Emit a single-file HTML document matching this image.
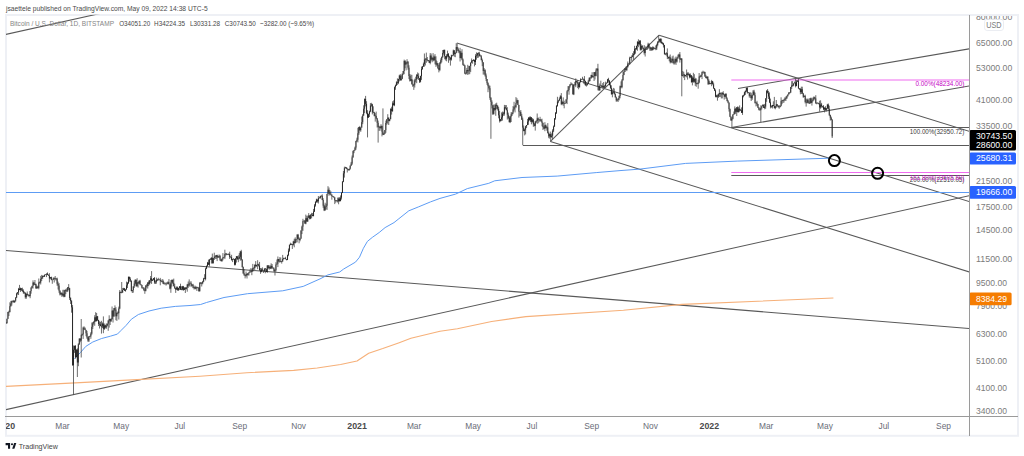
<!DOCTYPE html>
<html><head><meta charset="utf-8">
<style>
html,body{margin:0;padding:0;width:1024px;height:456px;overflow:hidden;background:#fff;}
body{position:relative;font-family:"Liberation Sans",sans-serif;}
svg{position:absolute;left:0;top:0;}
text{font-family:"Liberation Sans",sans-serif;}
</style></head><body>
<svg width="1024" height="456" viewBox="0 0 1024 456">
<defs>
<clipPath id="pane"><rect x="6" y="14.8" width="963" height="401.2"/></clipPath>
<clipPath id="taxis"><rect x="6" y="417" width="963" height="19"/></clipPath>
<clipPath id="paxis"><rect x="970" y="16" width="48" height="400"/></clipPath>
</defs>
<!-- header -->
<text x="6" y="10.7" font-size="7.6" fill="#4a4a4a" textLength="201.6" lengthAdjust="spacingAndGlyphs">jsaettele published on TradingView.com, May 09, 2022 14:38 UTC-5</text>
<!-- frame -->
<rect x="6" y="15" width="1012" height="420.8" fill="none" stroke="#eef0f5" stroke-width="2"/>
<g clip-path="url(#pane)">
<!-- trend lines -->
<g stroke="#595959" stroke-width="1.05" fill="none">
<line x1="-100" y1="57.9" x2="200" y2="-8.7"/>
<line x1="5.5" y1="250.4" x2="969.5" y2="328.5"/>
<line x1="5.5" y1="409.7" x2="969.3" y2="195.7"/>
<line x1="456.8" y1="42.9" x2="969.3" y2="201.6"/>
<line x1="550.4" y1="141.4" x2="969.5" y2="272"/>
<line x1="550.4" y1="141.4" x2="659.1" y2="35.2"/>
<line x1="659.1" y1="35.2" x2="969.5" y2="131.4"/>
<line x1="738" y1="88.4" x2="969.5" y2="48.8"/>
<line x1="731.3" y1="127.5" x2="969.5" y2="86"/>
<line x1="523" y1="145.5" x2="969" y2="145.5"/>
<line x1="731.3" y1="127.5" x2="969" y2="127.5"/>
<line x1="731.3" y1="175.5" x2="969" y2="175.5"/>
</g>
<g stroke="#f06cf0" stroke-width="1.2" fill="none">
<line x1="731.3" y1="80" x2="969" y2="80"/>
<line x1="731.3" y1="172.5" x2="969" y2="172.5"/>
</g>
<line x1="0" y1="192.5" x2="969" y2="192.5" stroke="#5d9cf4" stroke-width="1"/>
<!-- 200 MA -->
<polyline fill="none" stroke="#5d9cf4" stroke-width="1" stroke-linejoin="round" points="74.4,358.7 80.5,352.5 85.8,346.4 92.8,342 101.6,338.5 110.4,336.2 117.4,334.1 120.9,330.6 126.1,325.4 131.4,319.2 138.4,314.5 149,311 161.2,308.2 175.3,306.4 190,305.5 200.6,304.5 206.5,302.5 224,297.5 247.5,293.7 282.7,290.8 303.2,286.4 320,278.9 327.9,274.9 339.7,272 343.7,269 355.5,262.1 359.5,257.2 363.4,248.3 367.4,241.4 372.3,237.4 379.2,232.5 385.1,227.6 394,222.6 398.9,218.7 408.8,210.8 418.7,206.8 430.5,201.9 440,198.4 455.6,194.1 467.3,188.6 488.8,183.3 494.7,180.8 522,177.5 557.2,176.1 596.2,172.6 620,170.6 640,169.1 685.6,163.4 737.2,161.1 829.3,158.2"/>
<!-- orange MA -->
<polyline fill="none" stroke="#f6b079" stroke-width="1.1" stroke-linejoin="round" points="5.5,386.4 80,382.6 127.4,380.1 200,376.2 246.9,372.7 293.7,370.4 317.2,368 340.6,364.5 357,361 368.7,353.3 382.8,348.6 399.2,342.7 410.9,338.3 440,331.2 457.4,328.8 491.6,321.5 525.8,316.6 623.4,310.3 682,304.4 833.4,298"/>
<!-- candles -->
<path fill="none" stroke="#474747" stroke-width="0.8" d="M4.10 320.0V321.8M5.06 320.3V323.0M6.03 322.4V324.0M6.99 318.7V323.4M7.96 311.8V319.1M8.92 310.7V316.0M9.88 302.3V312.2M10.85 300.9V306.7M11.81 300.6V305.6M12.78 300.7V302.2M13.74 299.9V302.5M14.70 300.5V302.7M15.67 297.1V301.7M16.63 292.7V298.1M17.60 292.0V294.6M18.56 287.9V295.0M19.52 284.9V290.2M20.49 287.6V291.9M21.45 288.2V291.0M22.42 287.7V291.9M23.38 289.3V293.8M24.34 291.5V293.8M25.31 292.2V298.7M26.27 293.6V298.8M27.24 291.5V295.5M28.20 294.3V296.5M29.16 294.7V296.4M30.13 291.0V298.2M31.09 287.1V293.7M32.06 285.8V288.5M33.02 280.3V288.5M33.98 282.1V285.4M34.95 280.0V284.9M35.91 283.7V288.7M36.88 285.3V288.8M37.84 286.5V288.5M38.80 278.5V289.3M39.77 281.4V283.7M40.73 275.9V284.5M41.70 274.9V281.0M42.66 275.6V278.9M43.62 275.7V276.8M44.59 274.4V276.8M45.55 274.4V275.1M46.52 273.6V277.1M47.48 272.4V275.1M48.44 274.3V275.8M49.41 273.2V282.4M50.37 277.0V278.7M51.34 276.6V280.3M52.30 279.7V283.8M53.26 277.4V279.9M54.23 277.4V282.5M55.19 276.0V280.2M56.16 278.4V280.5M57.12 277.6V285.7M58.08 281.6V289.5M59.05 283.1V292.8M60.01 290.4V295.5M60.98 292.3V294.5M61.94 292.5V297.0M62.90 289.8V296.2M63.87 289.8V297.3M64.83 289.8V297.1M65.80 288.9V294.1M66.76 288.3V291.9M67.72 287.1V292.1M68.69 284.1V290.2M69.65 287.9V300.0M70.62 297.3V304.0M71.58 300.1V312.7M72.54 305.1V365.6M73.51 345.5V395.0M74.47 345.6V352.9M75.44 345.1V358.7M76.40 349.4V357.3M77.36 348.3V377.0M78.33 343.3V366.2M79.29 338.2V344.9M80.26 338.2V342.2M81.22 319.0V357.5M82.18 333.6V335.9M83.15 326.7V338.9M84.11 326.4V329.9M85.08 327.5V330.2M86.04 329.9V336.2M87.00 330.9V338.9M87.97 336.8V341.8M88.93 336.1V342.0M89.90 335.7V336.9M90.86 332.2V338.8M91.82 322.5V334.7M92.79 322.0V329.0M93.75 320.9V324.6M94.72 315.2V325.8M95.68 312.2V321.7M96.64 313.0V321.4M97.61 316.0V321.0M98.57 319.8V326.0M99.54 321.3V328.5M100.50 321.8V326.3M101.46 320.8V333.6M102.43 322.4V328.0M103.39 316.4V333.2M104.36 323.5V329.9M105.32 324.8V328.4M106.28 323.5V328.9M107.25 323.6V326.4M108.21 320.3V330.8M109.18 315.3V327.6M110.14 318.9V325.0M111.10 318.2V321.7M112.07 306.5V319.7M113.03 310.2V322.5M114.00 308.0V316.7M114.96 305.4V310.9M115.92 307.1V320.2M116.89 312.6V320.9M117.85 311.4V314.2M118.82 306.6V319.5M119.78 290.0V309.2M120.74 291.7V293.1M121.71 282.0V293.3M122.67 288.0V292.9M123.64 287.8V290.0M124.60 288.0V290.9M125.56 289.2V291.7M126.53 281.6V289.7M127.49 282.0V288.0M128.46 276.4V284.0M129.42 276.5V281.6M130.38 277.3V282.0M131.35 280.5V291.3M132.31 290.1V293.0M133.28 286.3V292.7M134.24 280.7V288.0M135.20 279.3V284.4M136.17 279.6V286.8M137.13 278.2V287.1M138.10 282.0V287.6M139.06 280.7V284.1M140.02 279.8V285.2M140.99 284.2V285.5M141.95 284.9V288.6M142.92 287.3V288.6M143.88 287.0V291.1M144.84 288.3V293.8M145.81 285.0V291.4M146.77 283.9V287.5M147.74 282.3V288.6M148.70 280.5V286.1M149.66 280.1V284.8M150.63 276.0V282.8M151.59 271.1V283.9M152.56 279.3V280.9M153.52 278.0V280.3M154.48 277.0V283.8M155.45 280.4V284.0M156.41 277.6V283.7M157.38 278.9V281.1M158.34 277.8V280.4M159.30 279.6V280.2M160.27 277.9V285.3M161.23 280.2V282.0M162.20 279.0V282.6M163.16 279.6V284.0M164.12 281.9V284.5M165.09 282.8V284.0M166.05 282.4V285.6M167.02 282.2V284.4M167.98 281.3V284.0M168.94 279.1V284.6M169.91 284.3V289.4M170.87 280.1V292.8M171.84 279.6V286.6M172.80 279.6V284.0M173.76 278.6V286.4M174.73 283.8V289.0M175.69 287.6V292.9M176.66 286.4V289.7M177.62 286.5V290.7M178.58 287.8V290.8M179.55 286.2V289.9M180.51 283.7V289.9M181.48 286.3V290.2M182.44 285.9V290.2M183.40 285.9V290.8M184.37 287.3V290.0M185.33 287.2V293.0M186.30 287.1V289.5M187.26 283.9V291.7M188.22 281.5V287.9M189.19 279.4V286.7M190.15 281.5V283.4M191.12 281.3V287.1M192.08 284.2V285.7M193.04 283.8V288.2M194.01 286.5V289.5M194.97 285.5V289.2M195.94 286.1V289.4M196.90 286.9V291.0M197.86 286.8V288.3M198.83 287.1V291.5M199.79 282.3V291.4M200.76 282.2V283.9M201.72 282.1V286.5M202.68 280.8V284.3M203.65 277.8V282.2M204.61 274.2V279.2M205.58 267.7V280.4M206.54 265.5V269.1M207.50 261.9V266.7M208.47 259.7V264.8M209.43 259.3V266.5M210.40 258.1V259.8M211.36 257.2V263.5M212.32 253.6V263.6M213.29 258.0V263.5M214.25 252.7V260.0M215.22 255.3V258.9M216.18 255.1V259.0M217.14 254.7V261.1M218.11 256.0V257.9M219.07 254.5V257.9M220.04 254.9V260.9M221.00 259.0V261.4M221.96 258.4V261.9M222.93 253.1V260.3M223.89 256.9V257.8M224.86 249.7V259.1M225.82 252.9V255.5M226.78 253.1V255.1M227.75 254.1V254.8M228.71 253.4V255.2M229.68 251.7V259.0M230.64 256.2V257.5M231.60 254.8V260.5M232.57 258.9V262.1M233.53 258.3V259.6M234.50 258.9V265.4M235.46 258.2V265.3M236.42 256.0V262.6M237.39 256.3V259.9M238.35 255.3V262.2M239.32 253.1V259.1M240.28 251.1V260.7M241.24 249.8V260.4M242.21 259.1V267.6M243.17 266.5V273.9M244.14 269.1V275.5M245.10 274.7V278.4M246.06 271.5V276.7M247.03 273.2V278.5M247.99 272.9V275.6M248.96 271.8V275.5M249.92 269.6V272.6M250.88 268.1V272.4M251.85 268.7V275.2M252.81 263.9V272.0M253.78 267.5V269.8M254.74 264.6V269.9M255.70 261.1V267.4M256.67 264.7V266.9M257.63 260.2V269.2M258.60 263.7V266.5M259.56 261.9V270.7M260.52 268.0V273.8M261.49 268.2V272.3M262.45 267.4V270.8M263.42 270.4V273.0M264.38 268.5V272.1M265.34 268.0V273.3M266.31 268.6V272.0M267.27 265.3V272.9M268.24 265.1V268.8M269.20 265.5V269.7M270.16 265.3V268.8M271.13 263.3V269.1M272.09 264.0V268.0M273.06 267.3V269.1M274.02 267.5V271.8M274.98 269.5V275.5M275.95 262.2V271.7M276.91 259.5V264.7M277.88 256.5V267.1M278.84 259.0V261.8M279.80 257.2V262.7M280.77 257.5V262.1M281.73 260.8V263.6M282.70 254.9V261.7M283.66 257.7V259.6M284.62 257.9V258.6M285.59 256.8V259.4M286.55 259.1V260.4M287.52 254.6V260.1M288.48 248.5V256.2M289.44 244.4V251.8M290.41 242.7V245.2M291.37 243.4V245.0M292.34 244.0V249.0M293.30 240.8V245.6M294.26 238.7V247.3M295.23 237.4V243.4M296.19 239.3V242.6M297.16 234.1V242.4M298.12 233.9V239.0M299.08 237.3V243.3M300.05 238.3V241.3M301.01 230.3V238.9M301.98 225.6V234.1M302.94 218.8V230.8M303.90 220.5V221.3M304.87 219.9V223.7M305.83 214.6V224.3M306.80 215.8V221.7M307.76 215.6V221.8M308.72 213.1V218.0M309.69 215.2V219.5M310.65 214.4V219.1M311.62 212.8V218.2M312.58 213.0V216.2M313.54 208.9V216.3M314.51 204.1V212.0M315.47 201.2V206.7M316.44 198.7V202.8M317.40 199.5V202.7M318.36 196.0V203.5M319.33 197.2V198.3M320.29 195.8V198.8M321.26 195.5V196.8M322.22 194.3V200.2M323.18 198.2V207.8M324.15 204.7V211.1M325.11 202.7V210.6M326.08 203.8V209.3M327.04 193.7V209.9M328.00 186.2V194.2M328.97 187.5V195.8M329.93 190.1V194.7M330.90 191.3V195.5M331.86 194.1V199.7M332.82 195.9V196.8M333.79 196.4V197.7M334.75 197.2V204.1M335.72 200.0V202.7M336.68 200.3V201.6M337.64 197.6V202.5M338.61 197.4V204.3M339.57 197.2V201.7M340.54 195.4V201.4M341.50 192.2V199.6M342.46 181.0V193.1M343.43 171.0V182.2M344.39 166.7V177.6M345.36 166.8V168.2M346.32 167.3V169.0M347.28 167.8V172.5M348.25 169.1V170.5M349.21 168.7V170.7M350.18 165.4V169.6M351.14 161.9V166.1M352.10 155.5V164.9M353.07 150.6V157.7M354.03 149.9V153.2M355.00 146.6V150.7M355.96 140.9V149.7M356.92 137.7V142.1M357.89 127.8V142.4M358.85 126.9V134.9M359.82 125.9V130.7M360.78 127.5V131.8M361.74 116.5V127.8M362.71 114.1V124.2M363.67 105.3V115.9M364.64 98.5V113.1M365.60 95.9V106.4M366.56 101.2V114.2M367.53 110.2V137.4M368.49 113.7V117.8M369.46 110.7V117.0M370.42 103.1V112.2M371.38 102.8V106.7M372.35 103.8V114.4M373.31 106.3V112.9M374.28 111.8V116.4M375.24 113.1V121.6M376.20 111.6V119.2M377.17 117.9V127.5M378.13 120.6V142.6M379.10 125.8V130.9M380.06 125.9V130.7M381.02 124.2V128.8M381.99 125.7V136.4M382.95 108.4V134.8M383.92 133.0V135.1M384.88 130.0V133.9M385.84 120.6V132.8M386.81 119.1V124.8M387.77 114.2V123.7M388.74 117.5V125.0M389.70 119.0V121.4M390.66 108.5V119.3M391.63 106.7V114.6M392.59 101.3V111.8M393.56 100.4V105.6M394.52 86.5V106.2M395.48 84.6V89.8M396.45 81.3V86.0M397.41 78.4V84.9M398.38 78.9V84.1M399.34 74.8V81.4M400.30 74.1V80.7M401.27 75.3V80.6M402.23 73.6V79.2M403.20 71.0V74.9M404.16 59.6V74.2M405.12 60.1V68.2M406.09 61.9V70.4M407.05 59.2V63.9M408.02 61.3V69.7M408.98 65.3V79.1M409.94 74.0V81.7M410.91 74.8V81.0M411.87 74.8V84.4M412.84 79.7V87.0M413.80 83.7V89.9M414.76 78.7V87.5M415.73 76.7V82.3M416.69 74.3V83.2M417.66 72.4V78.9M418.62 73.3V80.0M419.58 78.0V83.0M420.55 75.7V82.4M421.51 66.6V79.9M422.48 66.0V69.8M423.44 62.6V66.9M424.40 53.5V66.7M425.37 58.4V65.5M426.33 52.6V62.8M427.30 57.0V61.3M428.26 60.0V61.4M429.22 60.0V62.9M430.19 53.1V64.3M431.15 53.5V60.8M432.12 56.9V62.3M433.08 53.1V61.4M434.04 55.5V60.8M435.01 54.1V64.4M435.97 56.3V66.9M436.94 61.2V65.8M437.90 63.1V69.1M438.86 65.0V72.4M439.83 62.0V71.1M440.79 58.3V64.1M441.76 56.5V62.4M442.72 50.0V57.9M443.68 49.8V54.6M444.65 49.6V59.3M445.61 56.0V60.5M446.58 54.2V61.3M447.54 50.6V57.3M448.50 53.0V62.8M449.47 55.9V60.4M450.43 57.3V65.6M451.40 54.7V60.6M452.36 55.2V56.4M453.32 49.6V55.8M454.29 50.0V56.7M455.25 52.3V57.2M456.22 43.2V53.3M457.18 43.8V50.8M458.14 47.5V52.7M459.11 50.2V53.3M460.07 47.8V61.5M461.04 51.2V58.3M462.00 49.2V60.3M462.96 58.5V65.4M463.93 63.7V66.0M464.89 64.9V74.1M465.86 72.4V74.8M466.82 67.9V74.0M467.78 64.8V75.0M468.75 65.9V74.3M469.71 65.8V74.2M470.68 62.5V72.1M471.64 58.5V63.1M472.60 60.1V63.7M473.57 59.1V61.1M474.53 59.6V66.4M475.50 54.2V65.0M476.46 52.4V59.7M477.42 52.9V57.9M478.39 52.2V57.7M479.35 51.8V56.5M480.32 54.5V56.4M481.28 55.1V60.4M482.24 58.6V66.2M483.21 62.2V74.6M484.17 68.1V74.5M485.14 69.3V76.6M486.10 73.5V81.1M487.06 79.0V84.9M488.03 82.3V92.2M488.99 84.8V89.6M489.96 85.7V99.9M490.92 97.1V138.8M491.88 100.3V108.4M492.85 105.0V115.0M493.81 104.5V114.6M494.78 104.5V110.8M495.74 103.4V115.8M496.70 102.7V108.9M497.67 105.1V110.5M498.63 106.8V118.3M499.60 110.9V122.5M500.56 119.1V121.6M501.52 112.4V121.1M502.49 111.6V120.6M503.45 111.8V115.8M504.42 104.9V115.7M505.38 105.1V109.2M506.34 105.1V110.4M507.31 107.2V119.6M508.27 112.6V118.9M509.24 116.3V122.6M510.20 115.8V123.1M511.16 112.2V122.0M512.13 112.4V115.9M513.09 106.1V114.2M514.06 101.8V110.6M515.02 105.0V112.4M515.98 97.1V108.2M516.95 98.2V103.6M517.91 99.9V105.1M518.88 104.8V117.6M519.84 111.4V116.1M520.80 110.0V116.3M521.77 113.8V120.0M522.73 117.6V145.3M523.70 125.5V131.2M524.66 128.6V135.4M525.62 125.8V134.4M526.59 125.0V128.0M527.55 118.9V125.2M528.52 117.3V124.8M529.48 116.6V120.4M530.44 116.4V122.1M531.41 117.1V124.3M532.37 118.0V122.6M533.34 118.8V126.8M534.30 123.0V126.4M535.26 121.3V130.6M536.23 120.3V122.9M537.19 113.5V123.8M538.16 117.4V123.3M539.12 119.0V122.2M540.08 116.8V120.9M541.05 119.4V121.9M542.01 118.7V126.3M542.98 122.7V130.0M543.94 125.8V129.1M544.90 122.2V131.2M545.87 124.5V128.3M546.83 126.1V130.7M547.80 123.1V133.5M548.76 131.6V138.2M549.72 133.7V138.6M550.69 131.6V141.6M551.65 133.4V137.7M552.62 129.2V139.4M553.58 125.5V132.1M554.54 118.1V126.9M555.51 112.1V119.7M556.47 105.1V114.0M557.44 96.8V106.7M558.40 100.2V103.2M559.36 97.4V101.1M560.33 95.2V98.9M561.29 93.1V105.2M562.26 100.8V104.6M563.22 97.4V105.8M564.18 100.7V108.3M565.15 102.8V103.8M566.11 99.2V103.2M567.08 90.3V104.1M568.04 86.1V91.4M569.00 86.1V94.7M569.97 84.1V87.6M570.93 82.2V85.4M571.90 83.0V84.8M572.86 84.1V94.4M573.82 84.3V95.1M574.79 81.9V85.3M575.75 78.4V87.2M576.72 80.8V82.6M577.68 80.1V88.1M578.64 82.2V89.3M579.61 82.1V87.7M580.57 78.3V82.5M581.54 78.9V79.6M582.50 76.8V79.6M583.46 78.8V83.5M584.43 76.1V84.4M585.39 80.7V85.9M586.36 82.0V86.6M587.32 82.8V85.6M588.28 79.8V84.0M589.25 77.4V81.5M590.21 77.5V81.2M591.18 74.7V78.8M592.14 72.2V77.6M593.10 75.9V78.0M594.07 72.0V81.0M595.03 72.1V79.5M596.00 68.5V76.4M596.96 68.2V70.8M597.92 63.8V90.4M598.89 86.1V90.8M599.85 83.5V90.8M600.82 80.7V85.6M601.78 85.2V87.2M602.74 83.1V88.4M603.71 82.0V88.1M604.67 85.0V87.9M605.64 81.6V86.7M606.60 82.6V83.7M607.56 78.9V83.1M608.53 77.8V82.6M609.49 80.3V85.3M610.46 83.1V88.8M611.42 85.3V94.8M612.38 89.4V97.3M613.35 87.9V93.4M614.31 88.5V94.6M615.28 93.3V97.6M616.24 96.6V101.8M617.20 99.0V101.5M618.17 98.1V101.9M619.13 95.5V100.3M620.10 85.5V98.3M621.06 81.4V88.2M622.02 79.0V88.3M622.99 70.2V80.6M623.95 71.5V75.2M624.92 68.4V72.0M625.88 66.6V70.2M626.84 65.9V71.1M627.81 61.5V67.5M628.77 63.3V63.7M629.74 56.7V64.5M630.70 56.9V58.0M631.66 55.4V60.9M632.63 53.2V57.1M633.59 51.2V59.9M634.56 45.8V55.1M635.52 48.0V53.7M636.48 45.6V49.8M637.45 41.1V50.8M638.41 39.3V47.2M639.38 40.6V45.4M640.34 40.2V50.6M641.30 44.4V50.4M642.27 45.1V48.8M643.23 47.7V49.8M644.20 45.1V54.6M645.16 46.3V56.5M646.12 47.4V49.9M647.09 46.5V49.9M648.05 42.7V48.8M649.02 43.1V47.9M649.98 46.4V51.0M650.94 47.4V50.8M651.91 47.1V51.0M652.87 46.2V50.3M653.84 46.9V49.5M654.80 48.1V49.1M655.76 45.4V50.2M656.73 43.7V50.0M657.69 41.1V46.3M658.66 35.4V43.1M659.62 38.6V42.4M660.58 38.2V43.2M661.55 38.6V43.7M662.51 41.9V44.5M663.48 42.8V47.5M664.44 44.8V54.4M665.40 53.4V55.1M666.37 52.2V55.6M667.33 48.4V59.1M668.30 56.7V58.9M669.26 55.7V61.2M670.22 54.5V63.4M671.19 58.4V63.2M672.15 56.4V62.7M673.12 55.6V63.4M674.08 60.6V64.8M675.04 57.6V63.8M676.01 56.5V64.9M676.97 57.3V62.6M677.94 54.6V58.9M678.90 53.7V57.3M679.86 52.0V62.6M680.83 58.2V60.1M681.79 58.3V96.3M682.76 70.9V76.5M683.72 71.8V77.8M684.68 73.9V80.1M685.65 75.0V76.3M686.61 69.5V77.4M687.58 72.3V79.6M688.54 72.4V75.6M689.50 73.6V78.3M690.47 73.5V78.1M691.43 75.2V82.8M692.40 76.2V85.4M693.36 72.8V82.7M694.32 74.2V82.4M695.29 77.8V85.9M696.25 78.4V86.8M697.22 82.7V84.2M698.18 79.7V88.7M699.14 73.0V83.4M700.11 75.5V77.7M701.07 74.6V77.0M702.04 71.5V79.1M703.00 70.7V72.4M703.96 71.4V74.0M704.93 71.9V76.9M705.89 74.8V78.3M706.86 76.1V79.1M707.82 76.0V84.6M708.78 79.2V84.8M709.75 81.2V84.2M710.71 83.1V84.2M711.68 79.9V86.2M712.64 81.1V84.4M713.60 82.6V88.9M714.57 88.0V91.1M715.53 89.4V97.3M716.50 94.8V97.4M717.46 94.5V100.7M718.42 93.5V97.9M719.39 89.2V97.0M720.35 92.5V96.9M721.32 92.4V98.4M722.28 92.0V98.4M723.24 91.2V95.1M724.21 94.2V99.6M725.17 93.5V96.9M726.14 93.3V98.8M727.10 97.4V101.3M728.06 100.0V103.3M729.03 102.4V111.6M729.99 108.5V117.1M730.96 116.3V120.6M731.92 117.3V127.6M732.88 114.3V119.3M733.85 111.5V114.7M734.81 106.4V114.3M735.78 108.1V113.6M736.74 107.0V116.0M737.70 106.3V112.4M738.67 106.9V112.5M739.63 105.4V111.7M740.60 109.0V110.8M741.56 107.4V113.0M742.52 95.3V114.9M743.49 94.7V97.3M744.45 91.6V95.5M745.42 90.5V94.9M746.38 87.7V92.0M747.34 87.2V93.6M748.31 92.1V93.1M749.27 92.5V97.5M750.24 92.3V97.9M751.20 92.7V101.0M752.16 94.8V99.9M753.13 90.0V95.4M754.09 89.8V95.6M755.06 92.6V103.6M756.02 102.4V106.4M756.98 100.8V105.8M757.95 103.9V108.0M758.91 107.1V110.4M759.88 108.3V110.5M760.84 105.3V122.1M761.80 105.5V109.4M762.77 104.3V106.3M763.73 104.4V108.0M764.70 103.9V109.3M765.66 98.2V108.8M766.62 90.3V101.8M767.59 89.0V93.5M768.55 90.9V99.0M769.52 92.4V103.1M770.48 98.6V108.4M771.44 105.4V107.7M772.41 104.9V108.5M773.37 101.3V106.2M774.34 96.9V108.3M775.30 105.9V109.3M776.26 100.0V107.8M777.23 104.2V106.6M778.19 105.2V107.5M779.16 105.3V108.8M780.12 105.4V107.4M781.08 97.3V106.4M782.05 99.9V104.2M783.01 99.8V103.0M783.98 98.8V102.6M784.94 97.2V100.8M785.90 96.4V101.0M786.87 95.5V98.7M787.83 94.4V96.6M788.80 92.0V94.6M789.76 92.2V93.7M790.72 86.9V92.7M791.69 81.2V89.0M792.65 81.1V86.6M793.62 83.3V86.2M794.58 81.5V83.4M795.54 79.1V87.4M796.51 80.1V86.3M797.47 80.3V81.8M798.44 78.2V88.8M799.40 88.1V90.0M800.36 88.4V94.3M801.33 86.7V94.0M802.29 86.7V94.1M803.26 92.9V97.9M804.22 95.5V96.9M805.18 94.7V103.4M806.15 98.7V106.6M807.11 98.7V103.5M808.08 98.5V103.0M809.04 101.3V103.8M810.00 98.2V103.7M810.97 97.5V103.2M811.93 98.3V105.6M812.90 97.5V101.6M813.86 96.4V100.5M814.82 96.8V99.2M815.79 95.2V103.7M816.75 102.4V104.3M817.72 102.5V103.5M818.68 102.8V104.4M819.64 100.7V111.7M820.61 100.3V108.8M821.57 102.9V107.6M822.54 105.8V107.7M823.50 105.1V109.9M824.46 107.2V112.4M825.43 106.2V110.8M826.39 108.1V111.4M827.36 103.9V109.2M828.32 103.5V109.5M829.28 105.7V116.0M830.25 114.7V120.5M831.21 116.6V120.3M832.18 119.0V138.0"/>
<path fill="none" stroke="#000" stroke-width="0.65" d="M4.10 321.2V321.8M5.06 321.3V322.4M6.03 322.4V323.3M6.99 318.8V323.3M7.96 312.0V318.8M8.92 311.8V312.4M9.88 306.2V312.2M10.85 303.4V306.2M11.81 301.1V303.4M12.78 300.7V301.3M13.74 300.9V302.4M14.70 300.6V302.4M15.67 297.6V300.6M16.63 293.5V297.6M17.60 292.3V293.5M18.56 288.8V292.3M19.52 288.8V290.0M20.49 288.3V290.0M21.45 288.3V289.6M22.42 289.6V290.8M23.38 290.8V292.6M24.34 292.5V293.1M25.31 293.0V297.2M26.27 293.7V297.2M27.24 293.7V295.1M28.20 294.7V295.3M29.16 294.9V296.2M30.13 291.1V296.2M31.09 287.8V291.1M32.06 285.9V287.8M33.02 282.5V285.9M33.98 282.5V284.7M34.95 283.9V284.7M35.91 283.9V288.4M36.88 286.5V288.4M37.84 286.5V287.8M38.80 282.4V287.8M39.77 282.1V282.7M40.73 278.9V282.5M41.70 277.6V278.9M42.66 275.8V277.6M43.62 275.8V276.7M44.59 274.9V276.7M45.55 274.4V275.0M46.52 273.6V274.4M47.48 273.6V274.9M48.44 274.9V275.6M49.41 275.6V278.5M50.37 277.1V278.5M51.34 277.1V279.9M52.30 279.5V280.1M53.26 278.4V279.7M54.23 278.2V278.8M55.19 278.3V278.9M56.16 278.3V278.9M57.12 278.6V283.8M58.08 283.8V285.6M59.05 285.6V290.7M60.01 290.7V294.5M60.98 292.9V294.5M61.94 292.9V295.4M62.90 293.7V295.4M63.87 293.7V296.7M64.83 290.2V296.7M65.80 290.2V291.1M66.76 290.6V291.2M67.72 287.3V290.7M68.69 287.3V288.2M69.65 288.2V298.0M70.62 298.0V301.1M71.58 301.1V307.4M72.54 307.4V365.3M73.51 349.8V365.3M74.47 345.9V349.8M75.44 345.9V357.2M76.40 349.6V357.2M77.36 349.6V362.5M78.33 344.3V362.5M79.29 338.7V344.3M80.26 338.7V340.6M81.22 334.8V340.6M82.18 334.3V334.9M83.15 327.7V334.4M84.11 327.7V328.5M85.08 328.5V329.9M86.04 329.9V333.3M87.00 333.3V337.5M87.97 337.5V340.5M88.93 336.3V340.5M89.90 336.0V336.6M90.86 333.6V336.3M91.82 326.8V333.6M92.79 323.3V326.8M93.75 322.0V323.3M94.72 317.3V322.0M95.68 317.3V321.1M96.64 316.3V321.1M97.61 316.3V320.0M98.57 320.0V324.0M99.54 323.9V324.5M100.50 324.4V325.9M101.46 325.9V326.5M102.43 323.6V326.4M103.39 323.6V328.9M104.36 325.3V328.9M105.32 325.3V327.5M106.28 325.5V327.5M107.25 323.6V325.5M108.21 320.4V323.6M109.18 319.0V320.4M110.14 319.0V321.4M111.10 319.0V321.4M112.07 310.6V319.0M113.03 310.6V316.5M114.00 308.2V316.5M114.96 308.2V309.6M115.92 309.6V316.3M116.89 312.8V316.3M117.85 312.7V313.3M118.82 308.5V313.2M119.78 291.8V308.5M120.74 291.8V292.8M121.71 292.3V292.9M122.67 290.0V292.4M123.64 288.4V290.0M124.60 288.4V290.8M125.56 289.5V290.8M126.53 285.4V289.5M127.49 283.0V285.4M128.46 277.0V283.0M129.42 277.0V279.1M130.38 279.1V280.6M131.35 280.6V291.1M132.31 290.2V291.1M133.28 286.4V290.2M134.24 283.5V286.4M135.20 279.8V283.5M136.17 279.8V286.0M137.13 282.4V286.0M138.10 282.4V283.4M139.06 280.7V283.4M140.02 280.7V284.3M140.99 284.3V285.1M141.95 285.1V287.8M142.92 287.7V288.3M143.88 288.2V290.0M144.84 290.0V290.8M145.81 285.7V290.8M146.77 285.6V286.2M147.74 282.4V286.1M148.70 282.4V283.8M149.66 280.3V283.8M150.63 278.3V280.3M151.59 278.3V280.8M152.56 279.6V280.8M153.52 278.2V279.6M154.48 278.2V282.4M155.45 281.8V282.4M156.41 279.9V281.8M157.38 279.6V280.2M158.34 279.6V280.2M159.30 279.4V280.0M160.27 279.7V281.1M161.23 280.9V281.5M162.20 280.9V281.5M163.16 281.1V283.8M164.12 283.6V284.2M165.09 283.7V284.3M166.05 283.7V284.3M167.02 283.6V284.2M167.98 282.2V283.8M168.94 282.2V284.3M169.91 284.3V288.6M170.87 282.5V288.6M171.84 279.9V282.5M172.80 279.9V282.8M173.76 282.8V286.2M174.73 286.2V288.0M175.69 288.0V289.7M176.66 287.4V289.7M177.62 287.4V290.2M178.58 288.0V290.2M179.55 286.2V288.0M180.51 286.2V289.7M181.48 289.3V289.9M182.44 286.5V289.5M183.40 286.5V290.0M184.37 287.7V290.0M185.33 287.7V289.1M186.30 287.5V289.1M187.26 284.5V287.5M188.22 284.5V285.5M189.19 283.4V285.5M190.15 283.0V283.6M191.12 283.2V285.7M192.08 284.7V285.7M193.04 284.7V287.6M194.01 287.0V287.6M194.97 287.0V288.7M195.94 287.2V288.7M196.90 287.2V287.8M197.86 287.5V288.1M198.83 287.9V291.3M199.79 282.6V291.3M200.76 282.6V283.5M201.72 283.1V283.7M202.68 281.6V283.3M203.65 278.4V281.6M204.61 278.4V279.0M205.58 268.7V279.0M206.54 265.9V268.7M207.50 262.6V265.9M208.47 262.6V264.8M209.43 259.3V264.8M210.40 259.3V259.9M211.36 257.8V259.8M212.32 257.8V263.2M213.29 258.2V263.2M214.25 256.7V258.2M215.22 256.5V257.1M216.18 255.1V256.8M217.14 255.1V257.5M218.11 256.2V257.5M219.07 255.8V256.4M220.04 256.0V259.7M221.00 259.7V261.0M221.96 258.9V261.0M222.93 257.3V258.9M223.89 257.1V257.7M224.86 253.9V257.4M225.82 253.6V254.2M226.78 253.9V254.7M227.75 254.3V254.9M228.71 253.9V254.5M229.68 253.9V257.2M230.64 256.9V257.5M231.60 257.2V260.1M232.57 259.3V260.1M233.53 258.9V259.5M234.50 259.2V264.6M235.46 258.4V264.6M236.42 256.3V258.4M237.39 256.3V259.2M238.35 258.5V259.2M239.32 256.8V258.5M240.28 251.4V256.8M241.24 251.4V259.7M242.21 259.7V267.0M243.17 267.0V273.3M244.14 273.3V275.4M245.10 275.4V276.0M246.06 273.9V275.9M247.03 273.9V274.9M247.99 273.2V274.9M248.96 272.5V273.2M249.92 271.6V272.5M250.88 271.5V272.1M251.85 270.7V272.0M252.81 268.1V270.7M253.78 267.7V268.3M254.74 264.6V268.0M255.70 264.6V266.0M256.67 265.0V266.0M257.63 264.4V265.0M258.60 264.4V265.6M259.56 265.6V270.4M260.52 270.4V271.7M261.49 269.5V271.7M262.45 269.5V270.7M263.42 270.6V271.2M264.38 268.5V271.0M265.34 268.5V269.1M266.31 269.1V271.9M267.27 265.4V271.9M268.24 265.4V268.1M269.20 266.9V268.1M270.16 266.9V268.6M271.13 265.9V268.6M272.09 265.9V267.7M273.06 267.7V268.7M274.02 268.7V271.3M274.98 270.2V271.3M275.95 264.5V270.2M276.91 263.7V264.5M277.88 259.0V263.7M278.84 259.0V261.4M279.80 261.1V261.7M280.77 261.0V261.6M281.73 261.1V261.7M282.70 258.9V261.5M283.66 258.1V258.9M284.62 257.9V258.5M285.59 258.3V259.1M286.55 259.1V259.8M287.52 255.1V259.8M288.48 250.7V255.1M289.44 245.1V250.7M290.41 244.1V245.1M291.37 244.0V244.6M292.34 244.4V245.0M293.30 241.5V244.8M294.26 241.5V243.1M295.23 239.3V243.1M296.19 239.0V239.6M297.16 234.8V239.4M298.12 234.8V238.8M299.08 238.8V240.0M300.05 238.5V240.0M301.01 230.5V238.5M301.98 226.6V230.5M302.94 221.1V226.6M303.90 220.7V221.3M304.87 220.8V223.6M305.83 218.2V223.6M306.80 218.2V221.5M307.76 217.7V221.5M308.72 215.5V217.7M309.69 215.5V218.7M310.65 214.6V218.7M311.62 214.5V215.1M312.58 215.0V216.1M313.54 211.5V216.1M314.51 205.5V211.5M315.47 202.0V205.5M316.44 199.5V202.0M317.40 199.5V201.4M318.36 198.0V201.4M319.33 197.7V198.3M320.29 196.0V198.0M321.26 195.6V196.2M322.22 195.7V200.0M323.18 200.0V205.7M324.15 205.7V210.4M325.11 206.9V210.4M326.08 205.7V206.9M327.04 194.0V205.7M328.00 189.7V194.0M328.97 189.7V192.0M329.93 192.0V194.5M330.90 194.5V195.1M331.86 195.1V196.2M332.82 196.0V196.6M333.79 196.4V197.4M334.75 197.4V200.3M335.72 200.1V200.7M336.68 200.2V200.8M337.64 200.5V201.3M338.61 198.6V201.3M339.57 198.6V201.0M340.54 197.6V201.0M341.50 192.8V197.6M342.46 181.8V192.8M343.43 173.4V181.8M344.39 168.2V173.4M345.36 167.3V168.2M346.32 167.3V168.8M347.28 168.8V169.4M348.25 169.3V170.1M349.21 168.7V170.1M350.18 165.7V168.7M351.14 163.6V165.7M352.10 157.4V163.6M353.07 151.1V157.4M354.03 150.1V151.1M355.00 147.6V150.1M355.96 140.9V147.6M356.92 139.7V140.9M357.89 133.3V139.7M358.85 127.0V133.3M359.82 127.0V130.2M360.78 127.5V130.2M361.74 122.2V127.5M362.71 115.5V122.2M363.67 108.7V115.5M364.64 98.9V108.7M365.60 98.9V103.9M366.56 103.9V112.9M367.53 112.9V117.7M368.49 114.2V117.7M369.46 111.5V114.2M370.42 105.6V111.5M371.38 104.4V105.6M372.35 104.4V112.3M373.31 112.1V112.7M374.28 112.4V115.8M375.24 115.5V116.1M376.20 115.9V118.4M377.17 118.4V122.8M378.13 122.8V127.2M379.10 126.8V127.4M380.06 127.0V128.1M381.02 125.9V128.1M381.99 125.9V131.6M382.95 131.6V134.8M383.92 133.8V134.8M384.88 130.1V133.8M385.84 123.0V130.1M386.81 119.3V123.0M387.77 117.6V119.3M388.74 117.6V121.0M389.70 119.2V121.0M390.66 108.7V119.2M391.63 108.7V111.1M392.59 103.3V111.1M393.56 103.3V105.1M394.52 87.3V105.1M395.48 85.3V87.3M396.45 82.3V85.3M397.41 82.3V83.0M398.38 78.9V83.0M399.34 75.6V78.9M400.30 75.6V80.2M401.27 78.8V80.2M402.23 73.6V78.8M403.20 71.0V73.6M404.16 61.0V71.0M405.12 61.0V64.6M406.09 62.5V64.6M407.05 61.6V62.5M408.02 61.6V67.7M408.98 67.7V76.0M409.94 76.0V80.8M410.91 79.2V80.8M411.87 79.2V84.4M412.84 84.4V85.6M413.80 84.7V85.6M414.76 80.3V84.7M415.73 79.5V80.3M416.69 74.6V79.5M417.66 74.6V76.2M418.62 76.2V78.3M419.58 78.3V81.7M420.55 76.1V81.7M421.51 69.0V76.1M422.48 66.5V69.0M423.44 64.1V66.5M424.40 59.5V64.1M425.37 58.6V59.5M426.33 58.6V59.6M427.30 59.6V60.2M428.26 60.2V61.0M429.22 61.0V62.9M430.19 55.5V62.9M431.15 55.5V59.6M432.12 57.9V59.6M433.08 57.9V60.3M434.04 56.6V60.3M435.01 56.6V60.2M435.97 60.2V64.6M436.94 63.3V64.6M437.90 63.3V68.0M438.86 68.0V69.9M439.83 63.1V69.9M440.79 60.2V63.1M441.76 56.9V60.2M442.72 53.0V56.9M443.68 49.9V53.0M444.65 49.9V56.2M445.61 56.2V58.8M446.58 55.8V58.8M447.54 54.1V55.8M448.50 54.1V56.9M449.47 56.9V57.6M450.43 57.6V59.6M451.40 55.3V59.6M452.36 55.0V55.6M453.32 50.5V55.2M454.29 50.5V54.0M455.25 52.8V54.0M456.22 47.1V52.8M457.18 47.1V48.8M458.14 48.8V51.0M459.11 50.8V51.4M460.07 51.2V58.1M461.04 52.8V58.1M462.00 52.8V59.5M462.96 59.5V64.8M463.93 64.8V65.6M464.89 65.6V73.5M465.86 73.0V73.6M466.82 70.0V73.1M467.78 70.0V71.2M468.75 70.6V71.2M469.71 66.1V70.7M470.68 62.5V66.1M471.64 60.6V62.5M472.60 60.4V61.0M473.57 60.0V60.7M474.53 60.0V62.0M475.50 56.0V62.0M476.46 55.5V56.1M477.42 53.3V55.5M478.39 53.1V53.7M479.35 53.5V55.9M480.32 55.8V56.4M481.28 56.3V60.1M482.24 60.1V62.3M483.21 62.3V70.9M484.17 70.3V70.9M485.14 70.3V75.5M486.10 75.5V79.0M487.06 79.0V83.1M488.03 83.1V86.2M488.99 86.2V88.2M489.96 88.2V97.9M490.92 97.9V101.8M491.88 101.8V105.4M492.85 105.4V113.9M493.81 108.0V113.9M494.78 108.0V109.8M495.74 104.8V109.8M496.70 104.8V105.8M497.67 105.8V108.8M498.63 108.8V115.3M499.60 115.3V120.9M500.56 119.3V120.9M501.52 117.4V119.3M502.49 113.7V117.4M503.45 113.5V114.1M504.42 107.3V113.8M505.38 107.3V108.0M506.34 108.0V110.2M507.31 110.2V114.7M508.27 114.7V117.9M509.24 117.9V122.0M510.20 116.5V122.0M511.16 114.2V116.5M512.13 112.5V114.2M513.09 109.4V112.5M514.06 106.8V109.4M515.02 106.5V107.1M515.98 103.1V106.9M516.95 100.2V103.1M517.91 100.2V105.0M518.88 105.0V111.6M519.84 111.5V112.1M520.80 112.0V115.9M521.77 115.9V119.6M522.73 119.6V127.6M523.70 127.6V131.1M524.66 129.6V131.1M525.62 126.3V129.6M526.59 125.0V126.3M527.55 121.6V125.0M528.52 117.6V121.6M529.48 117.6V120.3M530.44 117.3V120.3M531.41 117.3V121.8M532.37 119.6V121.8M533.34 119.6V124.3M534.30 124.3V125.8M535.26 121.4V125.8M536.23 120.9V121.5M537.19 118.3V121.0M538.16 118.3V119.8M539.12 119.7V120.3M540.08 119.4V120.3M541.05 119.4V121.4M542.01 121.4V122.8M542.98 122.8V127.1M543.94 127.1V128.6M544.90 125.2V128.6M545.87 125.2V128.2M546.83 127.4V128.2M547.80 127.4V133.1M548.76 133.1V136.4M549.72 134.1V136.4M550.69 134.1V137.2M551.65 135.7V137.2M552.62 130.6V135.7M553.58 126.5V130.6M554.54 118.4V126.5M555.51 112.8V118.4M556.47 106.0V112.8M557.44 101.6V106.0M558.40 100.4V101.6M559.36 98.9V100.4M560.33 96.3V98.9M561.29 96.3V104.1M562.26 102.1V104.1M563.22 102.1V103.5M564.18 103.2V103.8M565.15 103.0V103.6M566.11 99.4V103.1M567.08 91.3V99.4M568.04 89.9V91.3M569.00 86.3V89.9M569.97 84.6V86.3M570.93 84.0V84.6M571.90 83.9V84.5M572.86 84.5V94.4M573.82 84.8V94.4M574.79 84.7V85.3M575.75 80.9V85.3M576.72 80.9V82.3M577.68 82.3V83.6M578.64 83.6V87.1M579.61 82.2V87.1M580.57 79.4V82.2M581.54 79.0V79.6M582.50 78.8V79.4M583.46 78.8V79.4M584.43 79.3V80.9M585.39 80.9V85.0M586.36 84.7V85.3M587.32 83.8V85.0M588.28 81.4V83.8M589.25 77.8V81.4M590.21 77.6V78.2M591.18 75.1V78.0M592.14 75.1V77.0M593.10 76.2V77.0M594.07 72.2V76.2M595.03 72.2V75.9M596.00 70.5V75.9M596.96 68.6V70.5M597.92 68.6V86.2M598.89 86.2V90.2M599.85 85.5V90.2M600.82 85.2V85.8M601.78 85.5V87.2M602.74 85.9V87.2M603.71 85.9V87.7M604.67 86.3V87.7M605.64 83.6V86.3M606.60 82.7V83.6M607.56 79.4V82.7M608.53 79.4V80.6M609.49 80.6V85.2M610.46 85.2V87.9M611.42 87.9V94.1M612.38 92.3V94.1M613.35 91.8V92.4M614.31 91.8V94.1M615.28 94.1V97.3M616.24 97.3V100.4M617.20 99.9V100.5M618.17 98.3V99.9M619.13 96.1V98.3M620.10 86.2V96.1M621.06 86.2V87.1M622.02 80.2V87.1M622.99 75.0V80.2M623.95 71.9V75.0M624.92 68.5V71.9M625.88 68.5V69.9M626.84 67.3V69.9M627.81 63.5V67.3M628.77 63.1V63.7M629.74 57.7V63.4M630.70 57.4V58.0M631.66 56.9V57.7M632.63 55.4V56.9M633.59 53.9V55.4M634.56 48.8V53.9M635.52 48.7V49.3M636.48 46.0V49.2M637.45 42.0V46.0M638.41 42.0V44.2M639.38 40.7V44.2M640.34 40.7V49.7M641.30 46.0V49.7M642.27 46.0V47.7M643.23 47.7V49.5M644.20 49.5V53.0M645.16 49.0V53.0M646.12 48.9V49.5M647.09 48.3V49.4M648.05 44.3V48.3M649.02 44.3V47.0M649.98 47.0V49.4M650.94 47.6V49.4M651.91 47.6V50.0M652.87 47.4V50.0M653.84 47.4V48.7M654.80 48.4V49.0M655.76 48.2V48.8M656.73 45.0V48.4M657.69 42.1V45.0M658.66 41.3V42.1M659.62 39.0V41.3M660.58 39.0V41.8M661.55 41.8V43.2M662.51 43.0V43.6M663.48 43.4V45.1M664.44 45.1V54.3M665.40 53.5V54.3M666.37 53.0V53.6M667.33 53.2V57.0M668.30 57.0V58.2M669.26 57.3V58.2M670.22 57.3V62.2M671.19 60.7V62.2M672.15 58.8V60.7M673.12 58.8V63.3M674.08 62.8V63.4M675.04 59.0V62.9M676.01 59.0V61.6M676.97 58.3V61.6M677.94 56.7V58.3M678.90 54.5V56.7M679.86 54.5V59.5M680.83 58.5V59.5M681.79 58.5V75.9M682.76 74.9V75.9M683.72 74.5V75.1M684.68 74.8V76.3M685.65 75.0V76.3M686.61 73.6V75.0M687.58 73.6V74.8M688.54 74.3V74.9M689.50 74.3V76.9M690.47 75.3V76.9M691.43 75.3V82.0M692.40 77.6V82.0M693.36 77.6V81.7M694.32 79.0V81.7M695.29 79.0V83.2M696.25 83.2V84.0M697.22 83.6V84.2M698.18 82.5V83.9M699.14 76.5V82.5M700.11 76.3V76.9M701.07 74.9V76.7M702.04 72.1V74.9M703.00 72.0V72.6M703.96 71.9V72.5M704.93 71.9V76.4M705.89 76.4V78.0M706.86 77.0V78.0M707.82 77.0V80.4M708.78 80.4V84.1M709.75 83.2V84.1M710.71 83.2V83.9M711.68 81.2V83.9M712.64 81.2V84.4M713.60 84.4V88.3M714.57 88.3V90.6M715.53 90.6V96.7M716.50 95.7V96.7M717.46 95.7V96.5M718.42 94.3V96.5M719.39 93.0V94.3M720.35 93.0V93.7M721.32 93.7V94.3M722.28 93.0V94.2M723.24 93.0V94.7M724.21 94.7V96.7M725.17 93.9V96.7M726.14 93.9V98.5M727.10 98.5V101.1M728.06 101.1V102.6M729.03 102.6V109.1M729.99 109.1V116.7M730.96 116.7V120.6M731.92 118.8V120.6M732.88 114.5V118.8M733.85 114.0V114.6M734.81 108.7V114.0M735.78 108.7V111.8M736.74 107.3V111.8M737.70 107.3V112.1M738.67 108.6V112.1M739.63 108.6V110.5M740.60 110.1V110.7M741.56 110.3V112.8M742.52 95.8V112.8M743.49 95.3V95.9M744.45 92.3V95.4M745.42 90.8V92.3M746.38 87.8V90.8M747.34 87.8V92.6M748.31 92.4V93.0M749.27 92.7V95.8M750.24 95.4V96.0M751.20 95.7V98.3M752.16 94.8V98.3M753.13 91.5V94.8M754.09 91.5V95.2M755.06 95.2V103.0M756.02 102.5V103.1M756.98 102.6V104.1M757.95 104.1V107.6M758.91 107.6V109.7M759.88 109.7V110.3M760.84 107.8V110.2M761.80 106.3V107.8M762.77 104.9V106.3M763.73 104.9V108.0M764.70 106.6V108.0M765.66 98.4V106.6M766.62 90.7V98.4M767.59 90.7V92.8M768.55 92.8V96.5M769.52 96.5V102.4M770.48 102.4V106.7M771.44 106.5V107.1M772.41 105.0V106.8M773.37 105.0V106.0M774.34 106.0V108.2M775.30 106.3V108.2M776.26 104.2V106.3M777.23 104.2V105.9M778.19 105.9V107.2M779.16 106.8V107.4M780.12 105.8V107.0M781.08 101.1V105.8M782.05 100.4V101.1M783.01 100.2V100.8M783.98 99.9V100.6M784.94 98.5V99.9M785.90 98.2V98.8M786.87 96.2V98.4M787.83 94.5V96.2M788.80 92.8V94.5M789.76 92.5V93.1M790.72 87.0V92.7M791.69 85.4V87.0M792.65 85.1V85.7M793.62 83.4V85.3M794.58 82.6V83.4M795.54 82.6V85.9M796.51 81.6V85.9M797.47 80.7V81.6M798.44 80.7V88.4M799.40 88.2V88.8M800.36 88.6V92.1M801.33 89.2V92.1M802.29 89.2V93.5M803.26 93.5V96.8M804.22 95.9V96.8M805.18 95.9V102.0M806.15 102.0V102.6M807.11 99.7V102.6M808.08 99.7V102.9M809.04 102.9V103.6M810.00 98.3V103.6M810.97 98.3V102.9M811.93 100.8V102.9M812.90 99.7V100.8M813.86 97.4V99.7M814.82 97.4V98.4M815.79 98.4V103.4M816.75 102.8V103.4M817.72 102.8V103.4M818.68 103.1V103.7M819.64 103.5V107.5M820.61 104.5V107.5M821.57 104.5V106.3M822.54 106.1V106.7M823.50 106.5V109.4M824.46 107.8V109.4M825.43 107.8V109.9M826.39 108.2V109.9M827.36 104.7V108.2M828.32 104.7V108.8M829.28 108.8V114.9M830.25 114.9V117.7M831.21 117.7V119.9M832.18 119.9V136.4"/>
<!-- circles -->
<circle cx="834.4" cy="160.6" r="5.5" fill="none" stroke="#000" stroke-width="2"/>
<circle cx="877.6" cy="173.3" r="5.5" fill="none" stroke="#000" stroke-width="2"/>
<!-- fib texts -->
<g font-size="7.9" text-anchor="end">
<text x="964.4" y="86.4" fill="#c400c4" textLength="48.9" lengthAdjust="spacingAndGlyphs">0.00%(48234.00)</text>
<text x="964.4" y="133.7" fill="#3c3c3c" textLength="54.6" lengthAdjust="spacingAndGlyphs">100.00%(32950.72)</text>
<text x="964.4" y="181.7" fill="#3c3c3c" textLength="54.6" lengthAdjust="spacingAndGlyphs">200.00%(22510.05)</text>
<text x="964.4" y="179.5" fill="#cc00cc" fill-opacity="0.85" textLength="54.6" lengthAdjust="spacingAndGlyphs">161.80%(23505.60)</text>
</g>
<!-- legend -->
<text x="10" y="25.9" font-size="7.8" fill="#858585" textLength="104" lengthAdjust="spacingAndGlyphs">Bitcoin / U.S. Dollar, 1D, BITSTAMP</text>
<g font-size="7.8" fill="#474747">
<text x="119.2" y="26" textLength="31" lengthAdjust="spacingAndGlyphs">O34051.20</text>
<text x="154.1" y="26" textLength="31" lengthAdjust="spacingAndGlyphs">H34224.35</text>
<text x="190" y="26" textLength="30" lengthAdjust="spacingAndGlyphs">L30331.28</text>
<text x="224.8" y="26" textLength="31" lengthAdjust="spacingAndGlyphs">C30743.50</text>
<text x="260.1" y="26" textLength="54" lengthAdjust="spacingAndGlyphs">−3282.00 (−9.65%)</text>
</g>
</g>
<!-- axes lines -->
<line x1="969.5" y1="15" x2="969.5" y2="436" stroke="#9a9a9a" stroke-width="1"/>
<line x1="5" y1="416.5" x2="1018" y2="416.5" stroke="#9a9a9a" stroke-width="1"/>
<!-- time axis labels -->
<g clip-path="url(#taxis)" font-size="8.4" fill="#6a6d78" text-anchor="middle">
<text x="5.3" y="429.2" font-weight="bold" fill="#4a4a4a" font-size="8.7" textLength="19.6" lengthAdjust="spacingAndGlyphs">2020</text>
<text x="62.4" y="429">Mar</text>
<text x="121.2" y="429">May</text>
<text x="179.8" y="429">Jul</text>
<text x="239.7" y="429">Sep</text>
<text x="298.6" y="429">Nov</text>
<text x="357.1" y="429.2" font-weight="bold" fill="#4a4a4a" font-size="8.7" textLength="19.6" lengthAdjust="spacingAndGlyphs">2021</text>
<text x="414.1" y="429">Mar</text>
<text x="473.1" y="429">May</text>
<text x="531.9" y="429">Jul</text>
<text x="591.7" y="429">Sep</text>
<text x="650.5" y="429">Nov</text>
<text x="709.3" y="429.2" font-weight="bold" fill="#4a4a4a" font-size="8.7" textLength="19.6" lengthAdjust="spacingAndGlyphs">2022</text>
<text x="766.2" y="429">Mar</text>
<text x="825" y="429">May</text>
<text x="883.8" y="429">Jul</text>
<text x="943.5" y="429">Sep</text>
</g>
<!-- price axis labels -->
<g clip-path="url(#paxis)" font-size="9.4" fill="#7b7b7b">
<text x="976" y="19.9" textLength="36.3" lengthAdjust="spacingAndGlyphs">80000.00</text>
<text x="976" y="45.8" textLength="36.3" lengthAdjust="spacingAndGlyphs">65000.00</text>
<text x="976" y="71.3" textLength="36.3" lengthAdjust="spacingAndGlyphs">53000.00</text>
<text x="976" y="103.4" textLength="36.3" lengthAdjust="spacingAndGlyphs">41000.00</text>
<text x="976" y="128.6" textLength="36.3" lengthAdjust="spacingAndGlyphs">33500.00</text>
<text x="976" y="184.0" textLength="36.3" lengthAdjust="spacingAndGlyphs">21500.00</text>
<text x="976" y="209.7" textLength="36.3" lengthAdjust="spacingAndGlyphs">17500.00</text>
<text x="976" y="233.2" textLength="36.3" lengthAdjust="spacingAndGlyphs">14500.00</text>
<text x="976" y="262.1" textLength="36.3" lengthAdjust="spacingAndGlyphs">11500.00</text>
<text x="976" y="286.0" textLength="31" lengthAdjust="spacingAndGlyphs">9500.00</text>
<text x="976" y="309.0" textLength="31" lengthAdjust="spacingAndGlyphs">7900.00</text>
<text x="976" y="337.3" textLength="31" lengthAdjust="spacingAndGlyphs">6300.00</text>
<text x="976" y="363.7" textLength="31" lengthAdjust="spacingAndGlyphs">5100.00</text>
<text x="976" y="390.9" textLength="31" lengthAdjust="spacingAndGlyphs">4100.00</text>
<text x="976" y="414.3" textLength="31" lengthAdjust="spacingAndGlyphs">3400.00</text>
<!-- USD box -->
<rect x="984.6" y="19.4" width="18.9" height="11.1" rx="2.5" fill="#fff" stroke="#e6e8ef" stroke-width="0.8"/>
<text x="986.2" y="27.9" font-size="8.8" textLength="15.3" lengthAdjust="spacingAndGlyphs">USD</text>
<!-- colored labels -->
<rect x="969.5" y="130" width="46.5" height="20.5" rx="1.5" fill="#000"/>
<text x="976" y="139.3" fill="#fff" textLength="36.3" lengthAdjust="spacingAndGlyphs">30743.50</text>
<text x="976" y="148.3" fill="#fff" textLength="36.3" lengthAdjust="spacingAndGlyphs">28600.00</text>
<rect x="969.5" y="152.4" width="46.5" height="12.2" rx="1.5" fill="#2962ff"/>
<text x="976" y="161.4" fill="#fff" textLength="36.3" lengthAdjust="spacingAndGlyphs">25680.31</text>
<rect x="969.5" y="186" width="46.5" height="12.7" rx="1.5" fill="#2962ff"/>
<text x="976" y="195.1" fill="#fff" textLength="36.3" lengthAdjust="spacingAndGlyphs">19666.00</text>
<rect x="969.5" y="292.4" width="42.1" height="12.8" rx="1.5" fill="#f57c00"/>
<text x="976" y="301.6" fill="#fff" textLength="31" lengthAdjust="spacingAndGlyphs">8384.29</text>
</g>
<!-- footer logo -->
<g fill="#131722">
<path d="M5.6 443.1 H10.1 V448.7 H8 V445.2 H5.6 Z"/>
<circle cx="12" cy="444.3" r="1.05"/>
<path d="M14.1 443.1 H16.3 L14.4 448.7 H12.2 Z"/>
</g>
<text x="18.8" y="448.8" font-size="7.2" fill="#444" textLength="39" lengthAdjust="spacingAndGlyphs">TradingView</text>
</svg>
</body></html>
